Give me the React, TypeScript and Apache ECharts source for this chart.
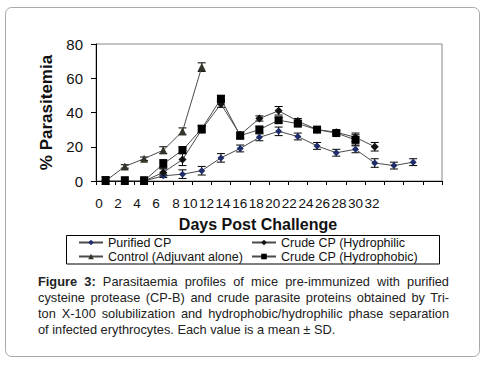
import React, { useEffect, useRef } from "react";
import * as echarts from "echarts";

const FONT = "'Liberation Sans', Arial, sans-serif";

// Categories (days post challenge); the last slot has no label
const days = ["0", "2", "4", "6", "8", "10", "12", "14", "16", "18", "20", "22", "24", "26", "28", "30", "32", "34"];
const dayLabels = ["0", "2", "4", "6", "8", "10", "12", "14", "16", "18", "20", "22", "24", "26", "28", "30", "32", ""];

const seriesNames = ["Purified CP", "Control (Adjuvant alone)", "Crude CP (Hydrophilic", "Crude CP (Hydrophobic)"];

const purified = [null, null, 0, 3, 4, 6, 13.5, 19, 25.5, 29, 26, 20.5, 16.5, 18.5, 10.5, 9, 11, null];
const purifiedSD = [null, null, 1.5, 1, 2.5, 2.5, 2.5, 2, 2, 2.5, 2, 2, 2, 2, 2.5, 2, 2, null];

const control = [0, 8.5, 13, 18, 29, 66.5, null, null, null, null, null, null, null, null, null, null, null, null];
const controlSD = [2.5, 1, 1, 2, 2, 2.5, null, null, null, null, null, null, null, null, null, null, null, null];

const hydrophilic = [null, null, 0, 5, 12.5, 30, 45, 27, 36.5, 41, 35, 30, 28.5, 25.5, 20, null, null, null];
const hydrophilicSD = [null, null, 1.5, 2, 3.5, 2, 2, 1.5, 1.5, 2.5, 1.5, 1, 1, 2.5, 2.5, null, null, null];

const hydrophobic = [0, 0, 0, 10, 18, 30.5, 48, 26.5, 30, 35.5, 33.5, 30, 28, 24, null, null, null, null];
const hydrophobicSD = [2.5, 2.5, 2.5, 2.5, 2, 2, 2, 2, 2, 1.5, 1.5, 1, 1, 3, null, null, null, null];

const yTicks = { min: 0, max: 80, interval: 20 };

// horizontal shift (px, to the left) of each tick label, as in the source figure
const labelShift = [6.6, 6.8, 7, 7.3, 6.5, 11.7, 14.4, 17.1, 19.7, 22.4, 25, 27.7, 30.3, 33.1, 35.7, 38.4, 41.1, 0];

const captionLines = [
  "cysteine protease (CP-B) and crude parasite proteins obtained by Tri-",
  "ton X-100 solubilization and hydrophobic/hydrophilic phase separation",
  "of infected erythrocytes. Each value is a mean ± SD.",
];

function errorSeries(vals: (number | null)[], sds: (number | null)[]) {
  const data: number[][] = [];
  vals.forEach((v, i) => {
    if (v != null && sds[i] != null) data.push([i, v, sds[i] as number]);
  });
  return {
    type: "custom",
    silent: true,
    z: 2,
    data,
    encode: { x: 0, y: 1 },
    renderItem: (params: any, api: any) => {
      const i = api.value(0);
      const v = api.value(1);
      const sd = api.value(2);
      const top = api.coord([i, v + sd]);
      const bot = api.coord([i, Math.max(v - sd, 0)]);
      const w = 4;
      const st = { stroke: "#000", lineWidth: 1 };
      return {
        type: "group",
        children: [
          { type: "line", shape: { x1: top[0], y1: top[1], x2: bot[0], y2: bot[1] }, style: st },
          { type: "line", shape: { x1: top[0] - w, y1: top[1], x2: top[0] + w, y2: top[1] }, style: st },
          { type: "line", shape: { x1: bot[0] - w, y1: bot[1], x2: bot[0] + w, y2: bot[1] }, style: st },
        ],
      };
    },
  };
}

function lineSeries(name: string, data: (number | null)[], symbol: string, size: number, color: string) {
  return {
    type: "line",
    name,
    data,
    symbol,
    symbolSize: size,
    showAllSymbol: true,
    connectNulls: false,
    z: 3,
    lineStyle: { color: "#4a4a4a", width: 1 },
    itemStyle: { color, borderColor: color, borderWidth: 0 },
  };
}

export default function App() {
  const ref = useRef<HTMLDivElement>(null);

  useEffect(() => {
    if (!ref.current) return;
    const chart = echarts.init(ref.current, null, { renderer: "svg" });
    const rich: Record<string, any> = {};
    labelShift.forEach((d, i) => {
      rich["s" + i] = { padding: [0, 2 * d, 0, 0], fontSize: 13.5, color: "#111", fontFamily: FONT };
    });

    const legendBase = {
      orient: "vertical",
      top: 235.5,
      itemWidth: 24,
      itemHeight: 7,
      itemGap: 0,
      padding: 0,
      selectedMode: false,
      textStyle: { fontSize: 12.5, lineHeight: 14, color: "#111", fontFamily: FONT },
    };

    chart.setOption({
      animation: false,
      backgroundColor: "#fff",
      textStyle: { fontFamily: FONT },
      grid: { left: 96, right: 46, top: 44, bottom: 189, show: true, borderColor: "#888", borderWidth: 1 },
      xAxis: {
        type: "category",
        data: days,
        boundaryGap: true,
        axisLine: { show: true, lineStyle: { color: "#000", width: 1 } },
        axisTick: { show: true, interval: 0, length: 4, lineStyle: { color: "#000" } },
        splitLine: { show: false },
        axisLabel: {
          interval: 0,
          margin: 15,
          hideOverlap: false,
          formatter: (_v: string, idx: number) => (dayLabels[idx] ? `{s${idx}|${dayLabels[idx]}}` : ""),
          rich,
        },
        name: "Days Post Challenge",
        nameLocation: "middle",
        nameGap: 35,
        nameTextStyle: { fontSize: 16, fontWeight: "bold", color: "#111", fontFamily: FONT, padding: [0, 22, 0, 0] },
      },
      yAxis: {
        type: "value",
        min: yTicks.min,
        max: yTicks.max,
        interval: yTicks.interval,
        axisLine: { show: true, lineStyle: { color: "#000", width: 1 } },
        axisTick: { show: true, length: 5, lineStyle: { color: "#000" } },
        splitLine: { show: false },
        axisLabel: { margin: 13, fontSize: 15, color: "#111", fontFamily: FONT },
        name: "% Parasitemia",
        nameLocation: "middle",
        nameGap: 40,
        nameTextStyle: { fontSize: 17, fontWeight: "bold", color: "#111", fontFamily: FONT },
      },
      legend: [
        { ...legendBase, left: 78, data: [seriesNames[0], seriesNames[1]] },
        { ...legendBase, left: 251, data: [seriesNames[2], seriesNames[3]] },
      ],
      graphic: [
        {
          type: "rect",
          shape: { x: 5.5, y: 7.5, width: 474, height: 349, r: 6 },
          style: { fill: "none", stroke: "#a9a9a9", lineWidth: 1 },
          silent: true,
          z: -10,
        },
        {
          type: "rect",
          shape: { x: 66.5, y: 235.5, width: 373, height: 28.5 },
          style: { fill: "none", stroke: "#000", lineWidth: 1 },
          silent: true,
        },
      ],
      series: [
        errorSeries(purified, purifiedSD),
        errorSeries(control, controlSD),
        errorSeries(hydrophilic, hydrophilicSD),
        errorSeries(hydrophobic, hydrophobicSD),
        lineSeries(seriesNames[0], purified, "diamond", 7, "#1f2d6b"),
        lineSeries(seriesNames[1], control, "triangle", 8, "#34342a"),
        lineSeries(seriesNames[2], hydrophilic, "diamond", 8, "#111"),
        lineSeries(seriesNames[3], hydrophobic, "rect", 8, "#000"),
      ],
    });
    return () => chart.dispose();
  }, []);

  const lineStyle: React.CSSProperties = { textAlign: "justify", textAlignLast: "justify" as any, whiteSpace: "normal" };

  return (
    <div style={{ position: "absolute", left: 0, top: 0, width: 488, height: 370, background: "#fff" }}>
      <div ref={ref} style={{ position: "absolute", left: 0, top: 0, width: 488, height: 370 }} />
      <div
        style={{
          position: "absolute",
          left: 38,
          top: 274,
          width: 411,
          fontFamily: FONT,
          fontSize: 12.8,
          lineHeight: "15.9px",
          color: "#222",
        }}
      >
        <div style={lineStyle}>
          <b>Figure 3:</b> Parasitaemia profiles of mice pre-immunized with purified
        </div>
        <div style={lineStyle}>{captionLines[0]}</div>
        <div style={lineStyle}>{captionLines[1]}</div>
        <div>{captionLines[2]}</div>
      </div>
    </div>
  );
}
